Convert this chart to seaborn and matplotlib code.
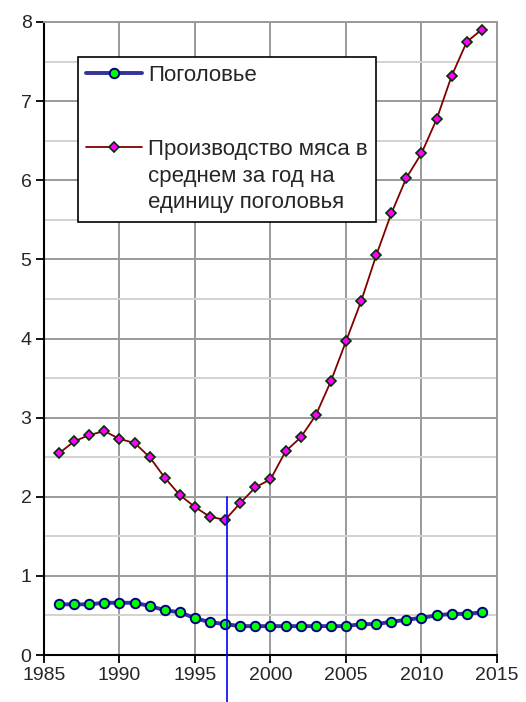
import matplotlib
matplotlib.use("Agg")
import matplotlib.pyplot as plt
import seaborn as sns
import pandas as pd
from matplotlib.legend_handler import HandlerLine2D
from matplotlib.transforms import Affine2D
from matplotlib.ticker import MultipleLocator

years = list(range(1986, 2015))
pogolovye = [0.64, 0.64, 0.64, 0.66, 0.66, 0.66, 0.62, 0.565, 0.54, 0.465,
             0.415, 0.39, 0.365, 0.365, 0.365, 0.365, 0.365, 0.365, 0.365, 0.365,
             0.39, 0.39, 0.42, 0.445, 0.47, 0.50, 0.52, 0.52, 0.54]
meat = [2.55, 2.70, 2.78, 2.83, 2.73, 2.68, 2.50, 2.24, 2.02, 1.87,
        1.745, 1.71, 1.92, 2.12, 2.22, 2.575, 2.75, 3.03, 3.46, 3.965,
        4.47, 5.05, 5.58, 6.03, 6.34, 6.77, 7.32, 7.75, 7.905]
label_pop = "Поголовье"
label_meat = "Производство мяса в\nсреднем за год на\nединицу поголовья"
marker_year = [1997.15, 1997.15]
marker_vals = [2.0, -0.6]

sns.set_style("white")
plt.rcParams['font.family'] = ['Liberation Sans', 'DejaVu Sans']

df = pd.DataFrame({"year": years, "pop": pogolovye, "meat": meat})

fig = plt.figure(figsize=(5.26, 7.02), dpi=100)
ax = fig.add_axes([44/526, 47/702, 453/526, 633/702])

sns.lineplot(data=df, x="year", y="pop", ax=ax, color="#333399", lw=2.8,
             marker="o", markersize=6.8, markerfacecolor="#00ff00",
             markeredgecolor="#000080", markeredgewidth=1.4, legend=False, zorder=3)
sns.lineplot(data=df, x="year", y="meat", ax=ax, color="#800000", lw=1.3,
             marker="D", markersize=5.4, markerfacecolor="#ff00ff",
             markeredgecolor="#003300", markeredgewidth=1.2, legend=False, zorder=3)
ax.plot(marker_year, marker_vals, color="#0000ff", lw=1.2, clip_on=False, zorder=4)

ax.set_xlim(1985, 2015)
ax.set_ylim(0, 8)
ax.xaxis.set_major_locator(MultipleLocator(5))
ax.yaxis.set_major_locator(MultipleLocator(1))
ax.yaxis.set_minor_locator(MultipleLocator(0.5))
ax.set_axisbelow(True)
ax.grid(which="major", axis="both", color="#9a9a9a", lw=1.4)
ax.grid(which="minor", axis="y", color="#d2d2d2", lw=1.4)
ax.set_xlabel("")
ax.set_ylabel("")
ax.tick_params(which="major", direction="out", length=6, width=1.3, color="black",
               labelsize=14, pad=3, left=True, bottom=True)
ax.tick_params(which="minor", length=0)
for s in ["left", "bottom"]:
    ax.spines[s].set_color("black")
    ax.spines[s].set_linewidth(1.5)
for s in ["top", "right"]:
    ax.spines[s].set_color("#9a9a9a")
    ax.spines[s].set_linewidth(1.4)


class ShiftHandler(HandlerLine2D):
    def __init__(self, shift, **kw):
        super().__init__(**kw)
        self.shift = shift

    def create_artists(self, legend, orig_handle, xdescent, ydescent, width, height, fontsize, trans):
        arts = super().create_artists(legend, orig_handle, xdescent, ydescent, width, height, fontsize, trans)
        t = Affine2D().translate(0, self.shift) + trans
        for a in arts:
            a.set_transform(t)
        return arts


h1, h2 = ax.lines[0], ax.lines[1]
leg = ax.legend(handles=[h1, h2], labels=[label_pop, label_meat],
                handler_map={h2: ShiftHandler(21.2)},
                loc="upper left", bbox_to_anchor=(0.075, 0.945), borderaxespad=0,
                frameon=True, fancybox=False, edgecolor="black", framealpha=1,
                handlelength=2.5, handletextpad=0.27, labelspacing=2.37, borderpad=0.38,
                prop={"family": "Liberation Sans", "size": 16})
leg.get_frame().set_linewidth(1.2)
for t in leg.get_texts():
    t.set_linespacing(1.35)

fig.savefig("out.png", dpi=100)
